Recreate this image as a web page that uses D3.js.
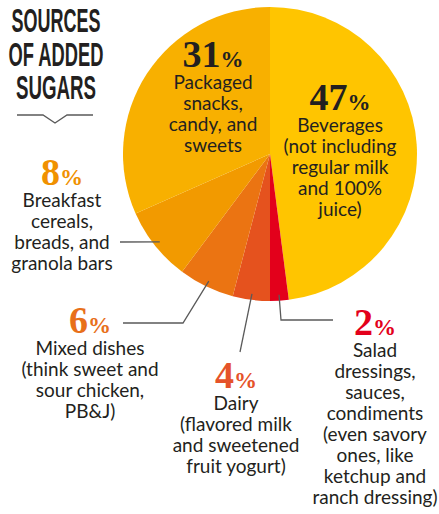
<!DOCTYPE html>
<html>
<head>
<meta charset="utf-8">
<script src="https://cdn.jsdelivr.net/npm/d3@7"></script>
<style>
  body { margin: 0; background: #fff; }
  .desc { font-family: Lato, "Noto Sans", sans-serif; font-size: 19px; fill: #231f20; }
  .pct { font-family: "Liberation Serif", "DejaVu Serif", serif; font-weight: bold; }
</style>
</head>
<body>
<div id="chart"></div>
<script>
// Data
// ==============================
var categories = ["Beverages", "Salad dressings", "Dairy", "Mixed dishes", "Breakfast", "Packaged snacks"];
var values = [47, 2, 4, 6, 8, 31];
var pctLabels = ["47", "2", "4", "6", "8", "31"];
var descLines = [
  ["Beverages", "(not including", "regular milk", "and 100%", "juice)"],
  ["Salad", "dressings,", "sauces,", "condiments", "(even savory", "ones, like", "ketchup and", "ranch dressing)"],
  ["Dairy", "(flavored milk", "and sweetened", "fruit yogurt)"],
  ["Mixed dishes", "(think sweet and", "sour chicken,", "PB&J)"],
  ["Breakfast", "cereals,", "breads, and", "granola bars"],
  ["Packaged", "snacks,", "candy, and", "sweets"]
];
var titleLines = ["SOURCES", "OF ADDED", "SUGARS"];

// Layout
// ==============================
var svgWidth = 439, svgHeight = 514;
var cx = 270, cy = 154, radius = 147;

var colors = ["#ffc500", "#e3001b", "#e5521e", "#eb7412", "#f29a00", "#f8b000"];
var pctColors = ["#231f20", "#e3001b", "#e5532a", "#e8701a", "#f09100", "#231f20"];

// label anchor (center x, baseline of percent) per slice
var labelPos = [
  {x: 340, y: 110}, {x: 375, y: 335}, {x: 236, y: 388},
  {x: 90, y: 333}, {x: 62, y: 185}, {x: 213, y: 67}
];
// leader line bends (null = no leader)
var leaders = [
  null,
  [[281, 320], [333, 320]],
  [[240, 352]],
  [[183, 323], [123, 323]],
  [[120, 242]],
  null
];

var svg = d3.select("#chart").append("svg")
  .attr("width", svgWidth)
  .attr("height", svgHeight);

// Title
// ==============================
var titleBase = [32, 66, 99];
var titleWidth = [89, 95, 80];
titleLines.forEach(function(t, i) {
  svg.append("text")
    .attr("x", 56 - titleWidth[i] / 2)
    .attr("y", titleBase[i])
    .attr("textLength", titleWidth[i])
    .attr("lengthAdjust", "spacingAndGlyphs")
    .style("font-family", "'Liberation Sans', Arial, sans-serif")
    .style("font-weight", "bold")
    .style("font-size", "33.5px")
    .style("fill", "#231f20")
    .text(t);
});

svg.append("path")
  .attr("d", "M17,115 L43,115 L55,123 L67,115 L93,115")
  .attr("fill", "none")
  .attr("stroke", "#5a5a5a")
  .attr("stroke-width", 1.3);

// Pie
// ==============================
var pie = d3.pie().sort(null).value(d => d);
var arcs = pie(values);

var arc = d3.arc().innerRadius(0).outerRadius(radius);
var leaderArc = d3.arc().innerRadius(141).outerRadius(141);

var chartGroup = svg.append("g")
  .attr("transform", `translate(${cx}, ${cy})`);

chartGroup.selectAll("path")
  .data(arcs)
  .enter()
  .append("path")
  .attr("d", arc)
  .attr("fill", (d, i) => colors[i]);

// Leader lines
// ==============================
arcs.forEach(function(d, i) {
  if (!leaders[i]) return;
  var c = leaderArc.centroid(d);
  var pts = [[cx + c[0], cy + c[1]]].concat(leaders[i]);
  svg.append("path")
    .attr("d", d3.line()(pts))
    .attr("fill", "none")
    .attr("stroke", "#5a5a5a")
    .attr("stroke-width", 1.3);
});

// Labels
// ==============================
categories.forEach(function(c, i) {
  var p = labelPos[i];
  var t = svg.append("text")
    .attr("class", "pct")
    .attr("x", p.x)
    .attr("y", p.y)
    .attr("text-anchor", "middle")
    .style("fill", pctColors[i]);
  t.append("tspan").style("font-size", "38px").text(pctLabels[i]);
  t.append("tspan").style("font-size", "23px").text("%");

  descLines[i].forEach(function(line, j) {
    svg.append("text")
      .attr("class", "desc")
      .attr("x", p.x)
      .attr("y", p.y + 22 + j * 21)
      .attr("text-anchor", "middle")
      .text(line);
  });
});
</script>
</body>
</html>
